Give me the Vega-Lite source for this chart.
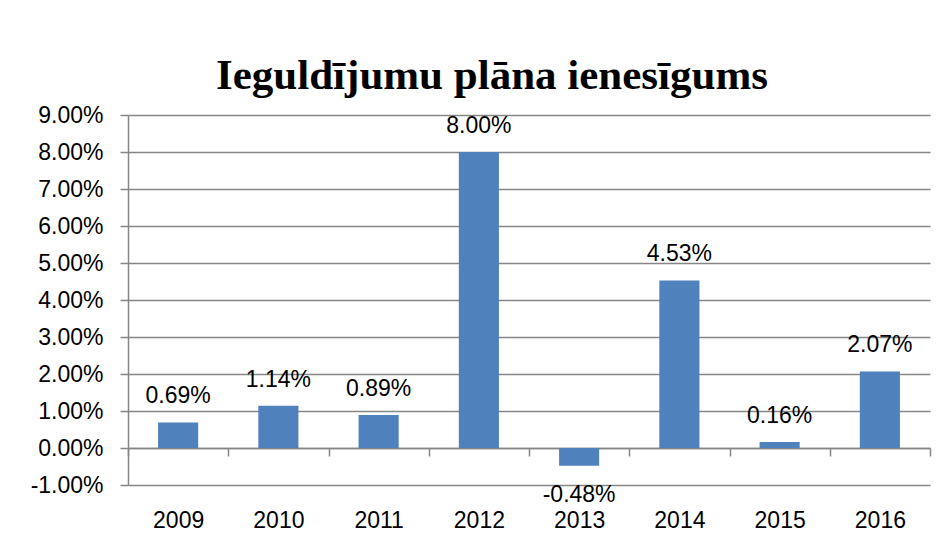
{
  "$schema": "https://vega.github.io/schema/vega-lite/v6.json",
  "width": 802,
  "height": 370,
  "autosize": {"type": "none"},
  "padding": {"left": 128, "top": 115, "right": 19, "bottom": 59},
  "background": "white",
  "config": {
    "view": {"stroke": null},
    "font": "Liberation Sans",
    "locale": {"number": {"decimal": ".", "thousands": ",", "grouping": [3], "currency": ["$", ""], "minus": "-"}}
  },
  "title": {
    "text": "Ieguldījumu plāna ienesīgums",
    "font": "Liberation Serif",
    "fontSize": 43,
    "fontWeight": "bold",
    "color": "#000000",
    "anchor": "middle",
    "baseline": "alphabetic",
    "offset": 27,
    "dx": -37,
    "dy": 55
  },
  "data": {
    "values": [
      {"year": "2009", "value": 0.0069},
      {"year": "2010", "value": 0.0114},
      {"year": "2011", "value": 0.0089},
      {"year": "2012", "value": 0.08},
      {"year": "2013", "value": -0.0048},
      {"year": "2014", "value": 0.0453},
      {"year": "2015", "value": 0.0016},
      {"year": "2016", "value": 0.0207}
    ]
  },
  "encoding": {
    "x": {
      "field": "year", "type": "nominal",
      "scale": {"paddingInner": 0, "paddingOuter": 0},
      "axis": {
        "title": null, "orient": "bottom", "offset": -37, "grid": false,
        "domainColor": "#868686", "domainWidth": 1.5,
        "tickColor": "#868686", "tickWidth": 1.5, "tickSize": 8, "tickBand": "extent",
        "labelAngle": 0, "labelFontSize": 23, "labelColor": "#000000",
        "labelPadding": 71, "labelBaseline": "alphabetic"
      }
    },
    "y": {
      "field": "value", "type": "quantitative",
      "scale": {"domain": [-0.01, 0.09], "nice": false, "zero": false},
      "axis": {
        "title": null, "format": ".2%",
        "values": [-0.01, 0, 0.01, 0.02, 0.03, 0.04, 0.05, 0.06, 0.07, 0.08, 0.09],
        "labelOverlap": false,
        "grid": true, "gridColor": "#868686", "gridWidth": 1.5,
        "domainColor": "#868686", "domainWidth": 1.5,
        "tickColor": "#868686", "tickSize": 8, "tickWidth": 1.5,
        "labelFontSize": 23, "labelColor": "#000000", "labelPadding": 17
      }
    }
  },
  "layer": [
    {
      "mark": {"type": "bar", "color": "#4f81bd", "width": {"band": 0.4}}
    },
    {
      "mark": {"type": "text", "fontSize": 23, "color": "#000000", "baseline": "alphabetic", "dy": -19},
      "transform": [{"filter": "datum.value >= 0"}],
      "encoding": {
        "text": {"field": "value", "type": "quantitative", "format": ".2%"}
      }
    },
    {
      "mark": {"type": "text", "fontSize": 23, "color": "#000000", "baseline": "alphabetic", "dy": 36},
      "transform": [{"filter": "datum.value < 0"}],
      "encoding": {
        "text": {"field": "value", "type": "quantitative", "format": ".2%"}
      }
    }
  ]
}
